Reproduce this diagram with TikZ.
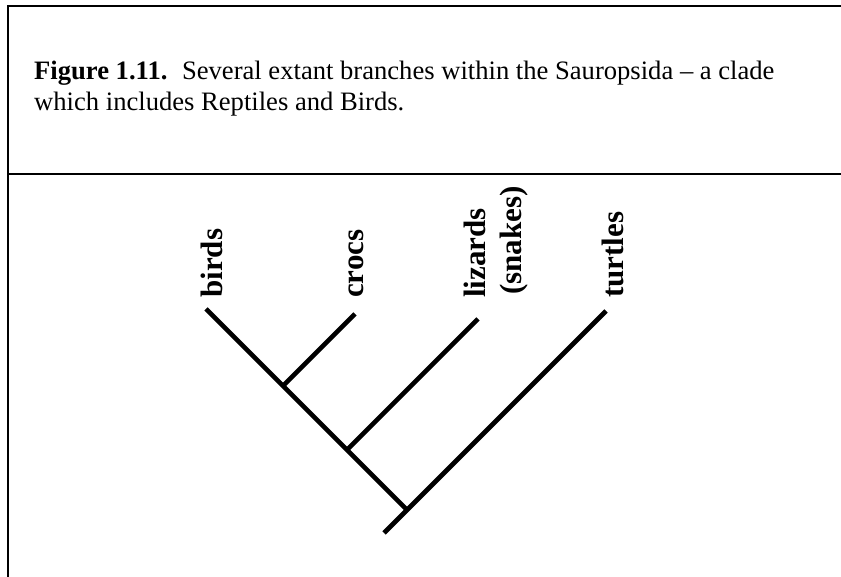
\documentclass[tikz,border=0pt]{standalone}
\usepackage{fontspec}
\setmainfont{Liberation Serif}
\begin{document}
\begin{tikzpicture}[x=1pt,y=1pt,
  frameline/.style={line width=2.6pt},
  branch/.style={line width=4.6pt,line cap=butt},
  taxon/.style={rotate=90,anchor=base west,inner sep=0pt,font=\fontsize{31}{34}\selectfont\bfseries},
  captxt/.style={anchor=base west,inner sep=0pt,font=\fontsize{26.6}{31}\selectfont}]
\useasboundingbox (0,0) rectangle (841,577);
% frame
\coordinate (fbl) at (8,-5);
\coordinate (ftl) at (8,571);
\coordinate (ftr) at (850,571);
\coordinate (fdl) at (8,403);
\coordinate (fdr) at (850,403);
\draw[frameline] (fbl) -- (ftl) -- (ftr);
\draw[frameline] (fdl) -- (fdr);
% caption
\node[captxt] (cap1) at (34,497) {\textbf{Figure 1.11.}\hspace{0.55em}Several extant branches within the Sauropsida – a clade};
\node[captxt] (cap2) at (34,466) {which includes Reptiles and Birds.};
% tree
\coordinate (birdtip) at (206,268);
\coordinate (crocj) at (283,191);
\coordinate (croctip) at (355,263);
\coordinate (lizj) at (347,127);
\coordinate (liztip) at (478,258);
\coordinate (turtj) at (407,67);
\coordinate (root) at (384,44);
\coordinate (turttip) at (606,266);
\draw[branch] (birdtip) -- (turtj);
\draw[branch] (crocj) -- (croctip);
\draw[branch] (lizj) -- (liztip);
\draw[branch] (root) -- (turttip);
% labels
\node[taxon] (lbirds) at (222,279) {birds};
\node[taxon] (lcrocs) at (363,279) {crocs};
\node[taxon] (llizards) at (485,279) {lizards};
\node[taxon] (lsnakes) at (521,282) {(snakes)};
\node[taxon] (lturtles) at (623,279) {turtles};
\end{tikzpicture}
\end{document}
